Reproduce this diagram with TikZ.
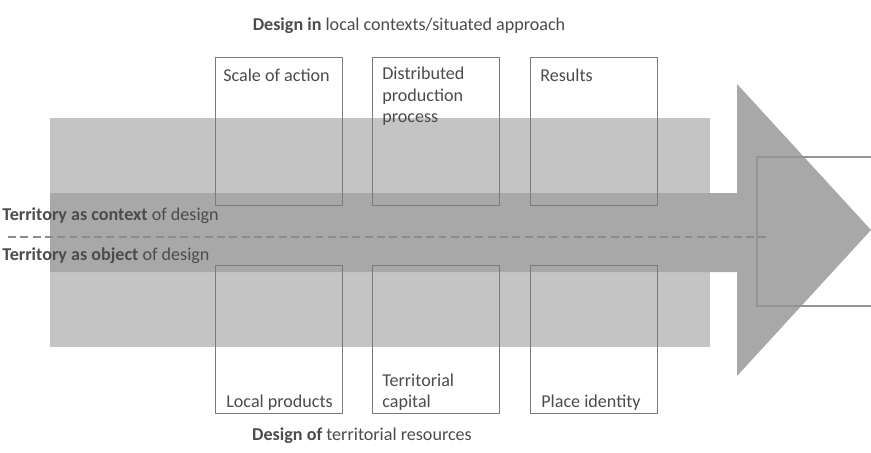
\documentclass[tikz,border=0pt]{standalone}
\usepackage{fontspec}
\setmainfont{Carlito}
\usepackage{tikz}

\begin{document}
\begin{tikzpicture}[x=0.2mm, y=-0.2mm,
		box/.style={draw=black!52, line width=0.6pt, minimum width=25.4mm, minimum height=29.6mm, inner sep=0pt, anchor=north west},
		boxtext/.style={text=black!70, font=\fontsize{10.3}{12.2}\selectfont, align=left, inner sep=0pt},
		lbl/.style={text=black!70, font=\fontsize{10.3}{12.2}\selectfont, inner sep=0pt}]
				\useasboundingbox (0,0) rectangle (871,452);
				\fill[white] (0,0) rectangle (871,452);
				
				\fill[black!23] (50,118) rectangle (710,347);
				\fill[black!34] (50,193) -- (737,193) -- (737,84) -- (871,230) -- (737,376) -- (737,272) -- (50,272) -- cycle;
				
				\coordinate (dashL) at (8,237);
				\coordinate (dashR) at (767,237);
				\draw[black!45, line width=0.8pt, dash pattern=on 4.5pt off 2.5pt] (dashL) -- (dashR);
				
				\node[box] (scale) at (215,57) {};
				\node[box] (distr) at (372,57) {};
				\node[box] (res) at (530,57) {};
				\node[box] (local) at (215,265) {};
				\node[box] (capital) at (372,265) {};
				\node[box] (place) at (530,265) {};
				\draw[black!42, line width=0.6pt] (890,157) -- (757,157) -- (757,306) -- (890,306);
				
				\node[boxtext, anchor=north west] at ([shift={(8,12)}]scale.north west) {Scale of action};
				\node[boxtext, anchor=north west] at ([shift={(10,10)}]distr.north west) {Distributed\\production\\process};
				\node[boxtext, anchor=north west] at ([shift={(10,12)}]res.north west) {Results};
				\node[boxtext, anchor=south west] at ([shift={(11,-3)}]local.south west) {Local products};
				\node[boxtext, anchor=south west] at ([shift={(10,-3)}]capital.south west) {Territorial\\capital};
				\node[boxtext, anchor=south west] at ([shift={(11,-3)}]place.south west) {Place identity};
				
				\node[lbl, anchor=west] (ctx) at (2,216) {\textbf{Territory as context} of design};
				\node[lbl, anchor=west] (obj) at (2,256) {\textbf{Territory as object} of design};
				\node[lbl] (top) at (409,26) {\textbf{Design in} local contexts/situated approach};
				\node[lbl] (bot) at (362,436) {\textbf{Design of} territorial resources};
			\end{tikzpicture}
\end{document}
